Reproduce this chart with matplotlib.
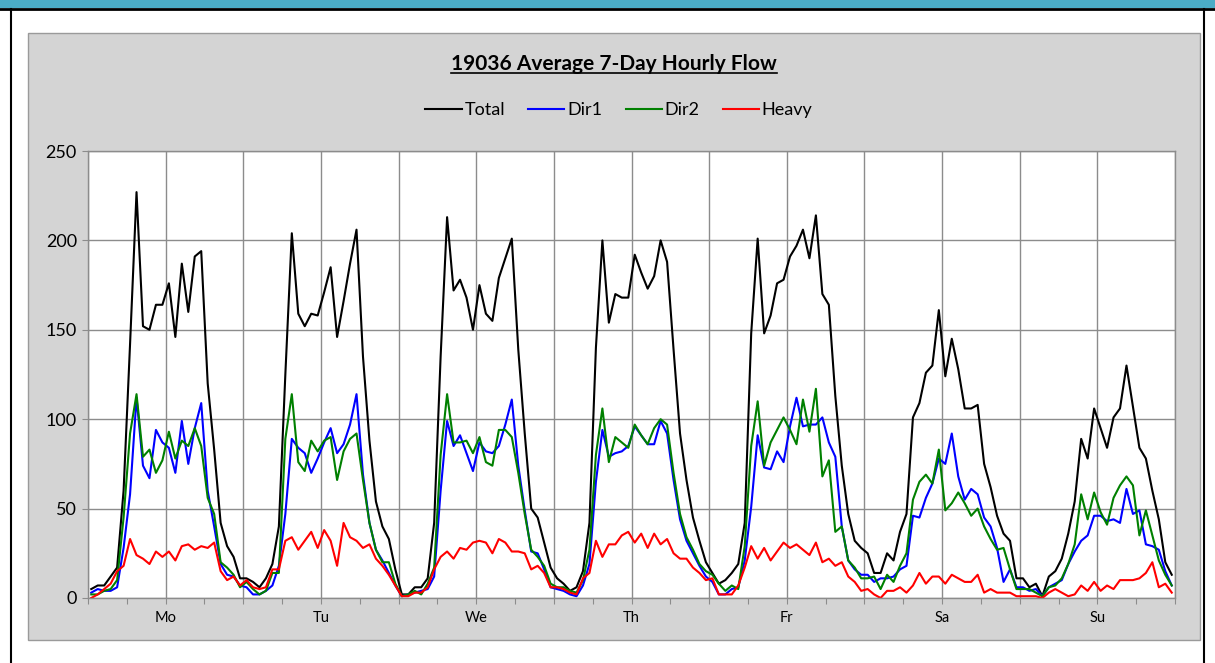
import numpy as np
import matplotlib.pyplot as plt
from matplotlib.patches import Rectangle
from matplotlib.lines import Line2D

plt.rcParams['font.family'] = ['Lato', 'DejaVu Sans']

days = ['Mo', 'Tu', 'We', 'Th', 'Fr', 'Sa', 'Su']

# hourly averages, one row per day (hour 0..23)
total = [
    5, 7, 7, 12, 17, 60, 142, 227, 152, 150, 164, 164, 176, 146, 187, 160, 191, 194, 120, 83, 42, 29, 23, 11,
    11, 9, 6, 11, 19, 40, 125, 204, 159, 152, 159, 158, 171, 185, 146, 166, 187, 206, 135, 88, 54, 40, 33, 16,
    2, 2, 6, 6, 11, 42, 135, 213, 172, 178, 168, 150, 175, 159, 155, 179, 190, 201, 139, 92, 50, 45, 31, 17,
    11, 8, 4, 6, 15, 42, 140, 200, 154, 170, 168, 168, 192, 182, 173, 180, 200, 188, 139, 92, 66, 45, 32, 20,
    14, 8, 10, 14, 19, 42, 148, 201, 148, 158, 176, 178, 191, 197, 206, 190, 214, 170, 164, 113, 74, 47, 32, 28,
    25, 14, 14, 25, 21, 37, 47, 101, 109, 126, 130, 161, 124, 145, 128, 106, 106, 108, 75, 62, 46, 36, 32, 11,
    11, 6, 8, 1, 12, 15, 22, 36, 54, 89, 78, 106, 95, 84, 101, 106, 130, 107, 84, 78, 60, 44, 20, 13,
]
dir1 = [
    3, 5, 4, 4, 6, 28, 58, 112, 74, 67, 94, 87, 84, 70, 99, 75, 95, 109, 60, 40, 19, 13, 12, 7,
    6, 2, 2, 4, 7, 18, 47, 89, 84, 81, 70, 78, 87, 95, 81, 86, 97, 114, 69, 42, 27, 21, 14, 7,
    1, 2, 3, 4, 5, 12, 60, 99, 85, 91, 81, 71, 87, 82, 81, 85, 97, 111, 74, 49, 26, 25, 16, 6,
    5, 4, 2, 1, 7, 19, 65, 94, 79, 81, 82, 85, 96, 91, 86, 86, 99, 92, 66, 44, 32, 25, 18, 12,
    9, 2, 2, 5, 6, 21, 51, 91, 73, 72, 82, 76, 96, 112, 96, 97, 97, 101, 87, 79, 40, 21, 16, 13,
    13, 9, 11, 11, 12, 16, 18, 46, 45, 56, 64, 78, 75, 92, 68, 55, 61, 58, 45, 40, 28, 9, 16, 6,
    6, 4, 5, 1, 6, 8, 10, 19, 26, 32, 35, 46, 46, 43, 44, 42, 61, 47, 49, 30, 29, 27, 15, 7,
]
dir2 = [
    2, 2, 4, 5, 10, 45, 92, 114, 79, 83, 70, 77, 93, 78, 88, 85, 95, 85, 56, 47, 20, 17, 13, 6,
    9, 5, 2, 4, 14, 14, 89, 114, 76, 71, 88, 82, 88, 90, 66, 82, 89, 92, 66, 42, 27, 20, 20, 8,
    1, 2, 4, 2, 8, 17, 80, 114, 87, 87, 88, 81, 90, 76, 74, 94, 94, 90, 70, 47, 27, 23, 18, 8,
    6, 6, 4, 3, 10, 27, 80, 106, 76, 90, 87, 84, 97, 91, 86, 95, 100, 97, 70, 47, 34, 27, 19, 15,
    13, 8, 4, 7, 5, 29, 85, 110, 74, 87, 94, 101, 94, 86, 111, 93, 117, 68, 77, 37, 40, 21, 17, 11,
    11, 12, 5, 13, 9, 18, 25, 55, 65, 69, 64, 83, 49, 53, 59, 53, 46, 50, 40, 33, 27, 28, 16, 5,
    5, 5, 3, 1, 6, 7, 11, 19, 30, 58, 44, 59, 48, 41, 56, 63, 68, 63, 35, 49, 35, 21, 13, 7,
]
heavy = [
    0, 2, 5, 8, 15, 18, 33, 24, 22, 19, 26, 23, 26, 21, 29, 30, 27, 29, 28, 31, 15, 10, 12, 7,
    10, 6, 5, 6, 16, 16, 32, 34, 27, 32, 37, 28, 38, 32, 18, 42, 34, 32, 28, 30, 22, 18, 13, 7,
    1, 1, 3, 3, 6, 16, 23, 26, 22, 28, 27, 31, 32, 31, 25, 33, 31, 26, 26, 25, 16, 18, 14, 6,
    6, 5, 3, 2, 11, 14, 32, 23, 30, 30, 35, 37, 31, 36, 28, 36, 30, 33, 25, 22, 22, 17, 14, 10,
    11, 2, 2, 2, 7, 17, 29, 22, 28, 21, 26, 31, 28, 30, 27, 24, 31, 20, 22, 18, 20, 12, 9, 4,
    5, 2, 0, 4, 4, 6, 3, 7, 14, 8, 12, 12, 8, 13, 11, 9, 9, 13, 3, 5, 3, 3, 3, 1,
    1, 1, 1, 0, 3, 5, 3, 1, 2, 7, 4, 9, 4, 7, 5, 10, 10, 10, 11, 14, 20, 6, 8, 3,
]

W, H = 1215, 663
fig = plt.figure(figsize=(W / 100, H / 100), dpi=100)
fig.patch.set_facecolor('white')

# page frame: teal strip on top, black rules
fig.add_artist(Rectangle((0, 1 - 8 / H), 1, 8 / H, transform=fig.transFigure,
                         facecolor='#4BACC6', edgecolor='none', zorder=-2))
fig.add_artist(Line2D([0, 1], [1 - 9 / H, 1 - 9 / H], transform=fig.transFigure,
                      color='black', lw=2, zorder=-2))
fig.add_artist(Line2D([11 / W, 11 / W], [0, 1 - 9 / H], transform=fig.transFigure,
                      color='black', lw=1.5, zorder=-2))
fig.add_artist(Line2D([1204 / W, 1204 / W], [0, 1 - 9 / H], transform=fig.transFigure,
                      color='black', lw=1.5, zorder=-2))

# chart area
fig.add_artist(Rectangle((28 / W, 1 - 640 / H), (1200 - 28) / W, (640 - 33) / H,
                         transform=fig.transFigure, facecolor='#D4D4D4',
                         edgecolor='#9A9A9A', lw=1, zorder=-1))

ax = fig.add_axes([88 / W, 1 - 598 / H, (1175 - 88) / W, (598 - 151) / H])
ax.set_facecolor('white')

n = len(total)
x = np.arange(n)
ax.plot(x, total, color='black', lw=1.5, label='Total')
ax.plot(x, dir1, color='#0000FF', lw=1.5, label='Dir1')
ax.plot(x, dir2, color='#008000', lw=1.5, label='Dir2')
ax.plot(x, heavy, color='#FF0000', lw=1.5, label='Heavy')

ax.set_xlim(-0.5, n - 0.5)
ax.set_ylim(0, 250)
ax.set_yticks(np.arange(0, 251, 50))
ax.yaxis.grid(True, color='#8C8C8C', lw=1)
for gx in np.arange(-0.5, n, 12):
    ax.axvline(gx, color='#8C8C8C', lw=1, zorder=0.5)

# 6-hour tick marks, day names at noon
ax.xaxis.remove_overlapping_locs = False
ax.set_xticks(np.arange(-0.5, n, 6))
ax.set_xticklabels([])
ax.set_xticks([11.5 + 24 * d for d in range(len(days))], minor=True)
ax.set_xticklabels(days, minor=True)
ax.tick_params(axis='x', which='major', length=4, color='#8C8C8C', direction='out')
ax.tick_params(axis='x', which='minor', length=0, labelsize=10.5, pad=9)
ax.tick_params(axis='y', length=4, color='#8C8C8C', labelsize=13, pad=4)
ax.set_axisbelow(True)
for s in ax.spines.values():
    s.set_color('#8C8C8C')
    s.set_linewidth(1)

fig.legend(loc='center', bbox_to_anchor=(619 / W, 1 - 110 / H), ncol=4, frameon=False,
           fontsize=13, handlelength=2.0, handletextpad=0.15, columnspacing=1.3)

title = fig.text(614 / W, 1 - 64 / H, '19036 Average 7-Day Hourly Flow', ha='center',
                 va='center', fontsize=15, fontweight='bold')
fig.canvas.draw()
bb = title.get_window_extent().transformed(fig.transFigure.inverted())
fig.add_artist(Line2D([bb.x0, bb.x1], [bb.y0 + 1 / H, bb.y0 + 1 / H],
                      transform=fig.transFigure, color='black', lw=1.2))

fig.savefig('out.png', dpi=100)
